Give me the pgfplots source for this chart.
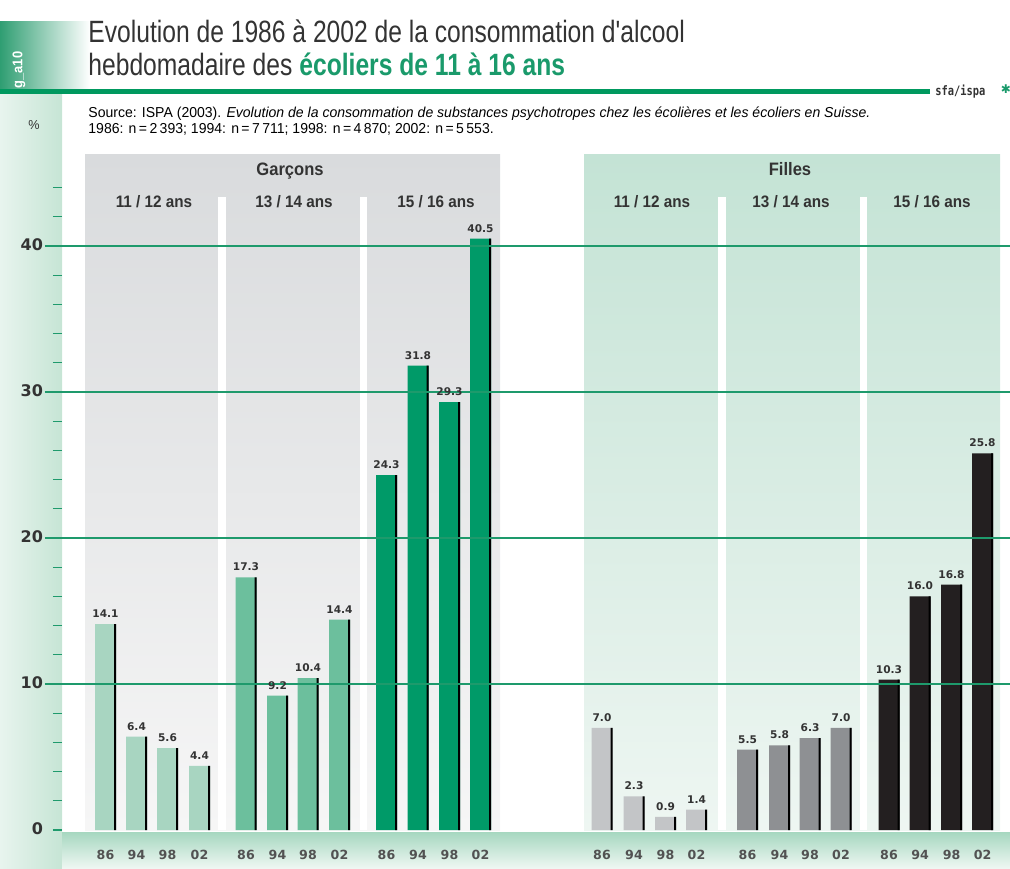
\documentclass[border=0pt]{standalone}
\usepackage{pgfplots}
\pgfplotsset{compat=1.18}
\usepackage{pgfplotstable}
\usepackage{fontspec}
\setmainfont{Liberation Sans}
\newfontfamily\titlefont[FakeStretch=0.80]{Liberation Sans}
\newfontfamily\labfont[FakeStretch=0.92]{Liberation Sans}
\newfontfamily\srcfont[FakeStretch=0.975]{Liberation Sans}
\newfontfamily\numfont{DejaVu Sans}
\newfontfamily\monofont{DejaVu Sans Mono}

\definecolor{gA}{HTML}{A8D5C1}
\definecolor{gB}{HTML}{6CBF9D}
\definecolor{gC}{HTML}{009A68}
\definecolor{fA}{HTML}{C3C5C7}
\definecolor{fB}{HTML}{8E9093}
\definecolor{fC}{HTML}{231F20}
\definecolor{gridg}{HTML}{1E9A6C}
\definecolor{txt}{HTML}{333333}
\definecolor{titlegreen}{HTML}{1A9A6B}
\definecolor{linegreen}{HTML}{00995F}
\definecolor{tabgreen}{HTML}{2F9E72}
\definecolor{stripL}{HTML}{E8F4EE}
\definecolor{stripR}{HTML}{C6E5D5}
\definecolor{bandT}{HTML}{A6D7C0}
\definecolor{bandB}{HTML}{EEF7F2}
\definecolor{pGT}{HTML}{D9DBDD}
\definecolor{pGB}{HTML}{F6F6F6}
\definecolor{pFT}{HTML}{C4E3D5}
\definecolor{pFB}{HTML}{EEF6F2}

% x = bar centre (pixel position along the axis), y = percent
\pgfplotstableread{
x y
105.5 14.1
136.5 6.4
167.5 5.6
199.5 4.4
}\tGA
\pgfplotstableread{
x y
246 17.3
277.5 9.2
308 10.4
339.5 14.4
}\tGB
\pgfplotstableread{
x y
386.5 24.3
418 31.8
449.5 29.3
480.5 40.5
}\tGC
\pgfplotstableread{
x y
602 7.0
634 2.3
665.5 0.9
696.5 1.4
}\tFA
\pgfplotstableread{
x y
747.5 5.5
779.5 5.8
810 6.3
841 7.0
}\tFB
\pgfplotstableread{
x y
889 10.3
920 16.0
951.5 16.8
982.5 25.8
}\tFC

\pgfplotsset{
  valbar/.style={ybar, bar width=21, draw=none, bar shift=0, fill=#1,
    nodes near coords={\pgfmathprintnumber[fixed,fixed zerofill,precision=1]{\pgfplotspointmeta}},
    nodes near coords style={font=\numfont\bfseries\fontsize{5.3}{6}\selectfont, text=txt, anchor=south, inner sep=0pt, yshift=3pt}},
  shadowbar/.style={ybar, bar width=1.8, draw=none, fill=black, bar shift=9.6},
}

\begin{document}
\begin{tikzpicture}
\path[use as bounding box] (0,0) rectangle (505pt,434pt);
\begin{scope}[x=0.5pt,y=-0.5pt,yshift=434pt]
\shade[left color=tabgreen, right color=white] (0,22) rectangle (90,91);
\shade[left color=stripL, right color=stripR] (0,93) rectangle (62,868);
\shade[top color=bandT, bottom color=bandB] (62,832) rectangle (1010,868);
\shade[top color=pGT, bottom color=pGB] (85,155) rectangle (500,830);
\fill[white] (218,197) rectangle (226,830);
\fill[white] (360,197) rectangle (367,830);
\shade[top color=pFT, bottom color=pFB] (584,155) rectangle (1000,830);
\fill[white] (718,197) rectangle (726,830);
\fill[white] (860,197) rectangle (867,830);
\fill[linegreen] (0,89) rectangle (930,94);
\end{scope}

\begin{axis}[
  at={(31pt,19pt)}, anchor=south west,
  scale only axis, width=474pt, height=337.3pt,
  xmin=62, xmax=1010, ymin=0, ymax=46.2,
  axis on top, clip=false,
  axis line style={draw=none},
  xtick={105.5,136.5,167.5,199.5,246,277.5,308,339.5,386.5,418,449.5,480.5,602,634,665.5,696.5,747.5,779.5,810,841,889,920,951.5,982.5},
  xticklabels={86,94,98,02,86,94,98,02,86,94,98,02,86,94,98,02,86,94,98,02,86,94,98,02},
  x tick style={draw=none},
  xtick pos=bottom, ytick pos=left,
  xticklabel style={font=\numfont\bfseries\fontsize{6.3}{7}\selectfont, text=txt!85, anchor=north, yshift=2pt},
  ytick={10,20,30,40},
  extra y ticks={0}, extra y tick style={grid=none, major tick length=4.5pt, yticklabel style={xshift=-4pt}},
  ymajorgrids, grid style={gridg, line width=0.6pt},
  tick align=outside,
  major tick length=8.5pt, minor tick length=4.5pt,
  y tick style={draw=gridg, line width=0.6pt},
  minor ytick={2,4,...,44},
  yticklabel style={font=\numfont\bfseries\fontsize{8}{9}\selectfont, text=txt, anchor=east, xshift=2.5pt, yshift=0.5pt},
  /pgf/number format/assume math mode=true,
]
\addplot[valbar=gA] table[x=x,y=y]{\tGA};
\addplot[shadowbar] table[x=x,y=y]{\tGA};
\addplot[valbar=gB] table[x=x,y=y]{\tGB};
\addplot[shadowbar] table[x=x,y=y]{\tGB};
\addplot[valbar=gC] table[x=x,y=y]{\tGC};
\addplot[shadowbar] table[x=x,y=y]{\tGC};
\addplot[valbar=fA] table[x=x,y=y]{\tFA};
\addplot[shadowbar] table[x=x,y=y]{\tFA};
\addplot[valbar=fB] table[x=x,y=y]{\tFB};
\addplot[shadowbar] table[x=x,y=y]{\tFB};
\addplot[valbar=fC] table[x=x,y=y]{\tFC};
\addplot[shadowbar] table[x=x,y=y]{\tFC};
\end{axis}

\begin{scope}[x=0.5pt,y=-0.5pt,yshift=434pt]
\node[anchor=base west, inner sep=0pt, text=txt] at (88,43) {\titlefont\fontsize{15.4}{18}\selectfont Evolution de 1986 à 2002 de la consommation d'alcool};
\node[anchor=base west, inner sep=0pt, text=txt] at (88,76) {\titlefont\fontsize{15.4}{18}\selectfont hebdomadaire des \textcolor{titlegreen}{\bfseries écoliers de 11 à 16 ans}};
\node[anchor=base west, inner sep=0pt, text=black] at (88,118) {\srcfont\fontsize{7.2}{9}\selectfont Source: ISPA (2003). \textit{Evolution de la consommation de substances psychotropes chez les écolières et les écoliers en Suisse.}};
\node[anchor=base west, inner sep=0pt, text=black] at (88,134) {\srcfont\fontsize{7.2}{9}\selectfont 1986: n\,=\,2\,393; 1994: n\,=\,7\,711; 1998: n\,=\,4\,870; 2002: n\,=\,5\,553.};
\node[inner sep=0pt, text=txt] at (34,125) {\srcfont\fontsize{6.5}{8}\selectfont \%};
\node[rotate=90, inner sep=0pt, text=white] at (19,70) {\labfont\bfseries\fontsize{7}{8}\selectfont g\_a10};
\node[anchor=base west, inner sep=0pt, text=txt] at (935,96) {\scalebox{0.8}[1]{\monofont\bfseries\fontsize{6.5}{8}\selectfont sfa/ispa}};
\node[inner sep=0pt, text=titlegreen] at (1006,89) {\numfont\fontsize{6}{7}\selectfont ✱};
\node[anchor=base, inner sep=0pt, text=txt] at (290,176) {\labfont\bfseries\fontsize{9}{10}\selectfont Garçons};
\node[anchor=base, inner sep=0pt, text=txt] at (790,176) {\labfont\bfseries\fontsize{9}{10}\selectfont Filles};
\foreach \cx/\lab in {154/{11 / 12 ans}, 294/{13 / 14 ans}, 436/{15 / 16 ans}, 652/{11 / 12 ans}, 791/{13 / 14 ans}, 932/{15 / 16 ans}}
  \node[anchor=base, inner sep=0pt, text=txt] at (\cx,208) {\labfont\bfseries\fontsize{8.3}{10}\selectfont \lab};
\end{scope}
\end{tikzpicture}
\end{document}
